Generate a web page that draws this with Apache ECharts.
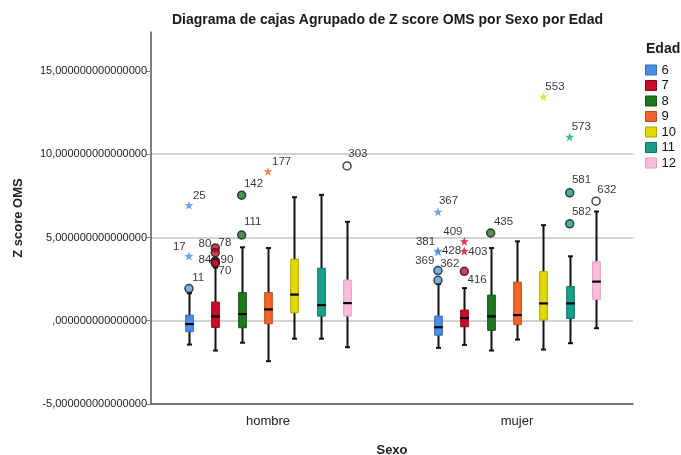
<!DOCTYPE html>
<html>
<head>
<meta charset="utf-8">
<script src="https://cdn.jsdelivr.net/npm/echarts@6/dist/echarts.min.js"></script>
<style>html,body{margin:0;padding:0;background:#fff}#c{width:681px;height:455px}</style>
</head>
<body>
<div id="c"></div>
<script>
// ---- data ----
const sexos = ['hombre', 'mujer'];
const edades = ['6', '7', '8', '9', '10', '11', '12'];
const yTicks = [-5, 0, 5, 10, 15];
// [min, Q1, mediana, Q3, max] per sexo (hombre, mujer)
const caja6  = [[-1.43, -0.66, -0.20, 0.34, 1.65], [-1.63, -0.87, -0.39, 0.28, 2.20]];
const caja7  = [[-1.79, -0.40, 0.26, 1.12, 3.20], [-1.45, -0.36, 0.16, 0.64, 1.96]];
const caja8  = [[-1.32, -0.42, 0.40, 1.69, 4.41], [-1.79, -0.58, 0.26, 1.54, 4.37]];
const caja9  = [[-2.43, -0.18, 0.68, 1.69, 4.37], [-1.13, -0.24, 0.34, 2.32, 4.77]];
const caja10 = [[-1.08, 0.48, 1.57, 3.69, 7.42], [-1.73, 0.04, 1.04, 2.95, 5.74]];
const caja11 = [[-1.08, 0.28, 0.94, 3.15, 7.56], [-1.35, 0.14, 1.04, 2.05, 3.87]];
const caja12 = [[-1.59, 0.28, 1.06, 2.44, 5.94], [-0.45, 1.28, 2.35, 3.55, 6.56]];
const cajas = [caja6, caja7, caja8, caja9, caja10, caja11, caja12];
// outliers: sexo index, edad index, value, case id, type ('o' circle, '*' extreme)
const atipSexo  = [0, 0, 0, 0, 0, 0, 0, 0, 0, 0, 0, 0,   1, 1, 1, 1, 1, 1, 1, 1, 1, 1, 1, 1, 1, 1];
const atipEdad  = [0, 0, 0, 1, 1, 1, 1, 1, 2, 2, 3, 6,   0, 0, 0, 0, 0, 1, 1, 1, 2, 4, 5, 5, 5, 6];
const atipValor = [1.93, 3.89, 6.94, 4.37, 4.09, 3.58, 3.52, 3.45, 5.15, 7.54, 8.97, 9.30,
                   6.54, 4.20, 4.15, 3.01, 2.43, 2.97, 4.19, 4.77, 5.27, 13.46, 11.04, 7.68, 5.82, 7.18];
const atipId    = ['11', '17', '25', '80', '78', '84', '90', '70', '111', '142', '177', '303',
                   '367', '381', '428', '369', '362', '416', '403', '409', '435', '553', '573', '581', '582', '632'];
const atipTipo  = ['o', '*', '*', 'o', 'o', 'o', 'o', 'o', 'o', 'o', '*', 'o',
                   '*', '*', '*', 'o', 'o', 'o', '*', '*', 'o', '*', '*', 'o', 'o', 'o'];

// ---- styles ----
const colores = ['#4a8ee0', '#cc0a2a', '#1e781e', '#f0662a', '#e4d800', '#17a08a', '#f9bcdb'];
const bordes  = ['#2f6cc0', '#8e0018', '#0e520e', '#c04812', '#b0a400', '#0b7563', '#e79cc0'];
const circRelleno = ['#5a9be6', '#cc0a2a', '#1e781e', '#f0662a', '#e4d800', '#17a08a', '#fff4f9'];
// label offsets (dx to label left edge, dy to label middle) relative to marker centre
const etiqDesp = [[4, -10], [-16, -9], [4, -9], [-16, -3], [4, -9], [-16, -1], [6, -2], [4, 8], [3, -12], [3, -11], [4, -10], [2, -11],
                  [1, -11], [-22, -9], [4, -1], [-22, -9], [3, -16], [4, 9], [4, 1], [-21, -9], [4, -10], [2, -10], [2, -10], [3, -12], [3, -11], [2, -11]];
const paso = 26.35 / 249;
const starPath = 'path://M0,-10 L2.35,-3.24 L9.51,-3.09 L3.8,1.24 L5.88,8.09 L0,4 L-5.88,8.09 L-3.8,1.24 L-9.51,-3.09 L-2.35,-3.24 Z';

function posX(s, e) { return s + (e - 3) * paso; }
function fmtY(v) {
  const z = '000000000000000';
  if (v === 0) return ',' + z;
  return String(v) + ',' + z;
}

const series = [];
edades.forEach(function (ed, ei) {
  series.push({
    name: ed,
    type: 'custom',
    itemStyle: { color: colores[ei] },
    encode: { x: 0, y: [1, 2, 3, 4, 5] },
    data: cajas[ei].map(function (b, si) { return [posX(si, ei)].concat(b); }),
    z: 3,
    renderItem: function (params, api) {
      const x = api.value(0);
      const pMin = api.coord([x, api.value(1)]);
      const pQ1 = api.coord([x, api.value(2)]);
      const pMed = api.coord([x, api.value(3)]);
      const pQ3 = api.coord([x, api.value(4)]);
      const pMax = api.coord([x, api.value(5)]);
      const cx = Math.round(pMin[0]) + 0.5;
      const hw = 3.8;
      const ln = { stroke: '#111', lineWidth: 2 };
      return {
        type: 'group',
        children: [
          { type: 'line', shape: { x1: cx, y1: pMax[1], x2: cx, y2: pQ3[1] }, style: ln },
          { type: 'line', shape: { x1: cx, y1: pQ1[1], x2: cx, y2: pMin[1] }, style: ln },
          { type: 'line', shape: { x1: cx - 2.5, y1: pMax[1], x2: cx + 2.5, y2: pMax[1] }, style: ln },
          { type: 'line', shape: { x1: cx - 2.5, y1: pMin[1], x2: cx + 2.5, y2: pMin[1] }, style: ln },
          { type: 'rect', shape: { x: cx - hw, y: pQ3[1], width: 2 * hw, height: pQ1[1] - pQ3[1] },
            style: { fill: colores[ei], stroke: bordes[ei], lineWidth: 1 } },
          { type: 'line', shape: { x1: cx - hw - 0.5, y1: pMed[1], x2: cx + hw + 0.5, y2: pMed[1] }, style: { stroke: '#000', lineWidth: 2.2 } }
        ]
      };
    }
  });
  const pts = [];
  atipId.forEach(function (id, k) {
    if (atipEdad[k] !== ei) return;
    const circ = atipTipo[k] === 'o';
    const sz = circ ? 8 : 9;
    pts.push({
      value: [posX(atipSexo[k], ei), atipValor[k]],
      name: id,
      symbol: circ ? 'circle' : starPath,
      symbolSize: sz,
      itemStyle: circ ? { color: circRelleno[ei], borderColor: '#1a1a1a', borderWidth: 1.5 } : { color: colores[ei] },
      label: { show: true, position: [etiqDesp[k][0] + sz / 2, etiqDesp[k][1] + sz / 2] }
    });
  });
  series.push({
    name: ed,
    type: 'scatter',
    z: 5,
    data: pts,
    label: { show: true, formatter: '{b}', align: 'left', verticalAlign: 'middle', fontSize: 11.5, color: '#000', fontFamily: 'Liberation Sans, Arial, sans-serif' },
    emphasis: { disabled: true }
  });
});

const chart = echarts.init(document.getElementById('c'), null, { renderer: 'canvas' });
chart.setOption({
  animation: false,
  textStyle: { fontFamily: 'Liberation Sans, Arial, sans-serif' },
  title: [
    { text: 'Diagrama de cajas Agrupado de Z score OMS por Sexo por Edad', left: 167, top: 8,
      textStyle: { fontSize: 14, fontWeight: 'bold', color: '#1a1a1a' } },
    { text: 'Edad', left: 641, top: 37, textStyle: { fontSize: 14, fontWeight: 'bold', color: '#1a1a1a' } }
  ],
  legend: {
    orient: 'vertical', left: 645, top: 63.5, padding: 0,
    itemWidth: 11, itemHeight: 10, itemGap: 2.5,
    textStyle: { fontSize: 13, color: '#111' },
    data: edades.map(function (ed, i) {
      return { name: ed, icon: 'rect', itemStyle: { color: colores[i], borderColor: bordes[i], borderWidth: 1 } };
    })
  },
  grid: { left: 151, right: 48, top: 32, bottom: 51, outerBoundsMode: 'none', containLabel: false },
  xAxis: {
    type: 'value', min: -117 / 249, max: 365 / 249,
    axisLine: { show: true, onZero: false, lineStyle: { color: '#555', width: 1.5 } },
    axisTick: { show: false },
    splitLine: { show: false },
    axisLabel: { customValues: [0, 1], formatter: function (v) { return sexos[Math.round(v)]; }, fontSize: 13, color: '#222', margin: 11 },
    name: 'Sexo', nameLocation: 'middle', nameGap: 40,
    nameTextStyle: { fontSize: 13, fontWeight: 'bold', color: '#222' }
  },
  yAxis: {
    type: 'value', min: -5, max: 17.34, interval: 5,
    axisLine: { show: true, onZero: false, lineStyle: { color: '#555', width: 1.5 } },
    axisTick: { show: true, customValues: yTicks, length: 5, lineStyle: { color: '#888' } },
    axisLabel: { customValues: yTicks, formatter: fmtY, fontSize: 11, color: '#222', margin: 4 },
    splitLine: { show: true, showMaxLine: false, lineStyle: { color: '#c4c4c4', width: 1.5 } },
    name: 'Z score OMS', nameLocation: 'middle', nameGap: 126,
    nameTextStyle: { fontSize: 13, fontWeight: 'bold', color: '#222' }
  },
  series: series
});
</script>
</body>
</html>
